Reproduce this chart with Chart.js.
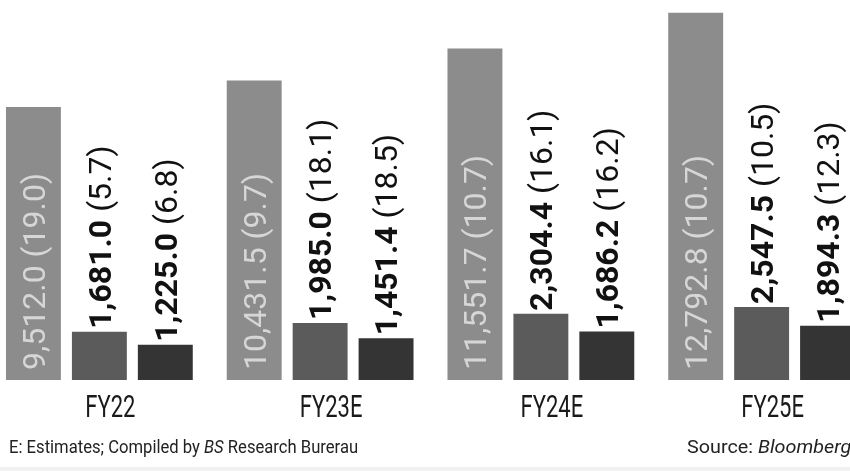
<!DOCTYPE html>
<html>
<head>
<meta charset="utf-8">
<script src="https://cdn.jsdelivr.net/npm/chart.js@4/dist/chart.umd.min.js"></script>
<style>
  html, body { margin: 0; padding: 0; background: #fff; }
  body { width: 850px; height: 471px; overflow: hidden; position: relative; font-family: Roboto, sans-serif; }
  #grafico { position: absolute; left: -11px; top: 0; }
  .nota { position: absolute; top: 437px; font-size: 19px; line-height: 19px; color: #222; white-space: nowrap; transform-origin: left top; }
  #izq { left: 9px; transform: scaleX(0.875); }
  #der { left: 687px; transform: scaleX(1.04); }
  #linea { position: absolute; left: 0; top: 467px; width: 850px; height: 4px; background: #f1f1f1; }
</style>
</head>
<body>
<canvas id="grafico" width="883" height="471"></canvas>
<div class="nota" id="izq">E: Estimates; Compiled by <i>BS</i> Research Burerau</div>
<div class="nota" id="der">Source: <i>Bloomberg</i></div>
<div id="linea"></div>
<script>
// =====================
// DATOS
// =====================
const categorias = ["FY22", "FY23E", "FY24E", "FY25E"];

const serieA = [9512.0, 10431.5, 11551.7, 12792.8];
const serieB = [1681.0, 1985.0, 2304.4, 2547.5];
const serieC = [1225.0, 1451.4, 1686.2, 1894.3];

// variación % entre paréntesis
const crecA = [19.0, 9.7, 10.7, 10.7];
const crecB = [5.7, 18.1, 16.1, 10.5];
const crecC = [6.8, 18.5, 16.2, 12.3];

const crecimientos = [crecA, crecB, crecC];
const colores = ["#8c8c8c", "#5b5b5b", "#343434"];

// =====================
// HELPERS
// =====================
function formatear(v) {
  return v.toLocaleString("en-US", { minimumFractionDigits: 1, maximumFractionDigits: 1 });
}

// etiquetas rotadas sobre/dentro de las barras + categorías
const etiquetas = {
  id: "etiquetas",
  afterDatasetsDraw(chart) {
    const ctx = chart.ctx;
    const fs = 32;
    const alto = fs * 0.71;

    chart.data.datasets.forEach((ds, i) => {
      const meta = chart.getDatasetMeta(i);
      meta.data.forEach((bar, j) => {
        const num = formatear(ds.data[j]);
        const pct = " (" + crecimientos[i][j].toFixed(1) + ")";
        ctx.save();
        if (i === 0) {
          ctx.translate(bar.x, bar.base - 10);
        } else {
          ctx.translate(bar.x, bar.y - 3);
        }
        ctx.rotate(-Math.PI / 2);
        ctx.textAlign = "left";
        ctx.textBaseline = "alphabetic";
        if (i === 0) {
          ctx.fillStyle = "#d6d6d6";
          ctx.font = `400 ${fs}px Roboto`;
          ctx.fillText(num + pct, 0, alto / 2);
        } else {
          ctx.fillStyle = "#111";
          ctx.font = `700 ${fs}px Roboto`;
          ctx.fillText(num, 0, alto / 2);
          const w = ctx.measureText(num).width;
          ctx.font = `400 ${fs}px Roboto`;
          ctx.fillText(pct, w, alto / 2);
        }
        ctx.restore();
      });
    });

    // categorías (fuente condensada), algo corridas a la derecha como en el original
    const x = chart.scales.x;
    ctx.save();
    ctx.fillStyle = "#1a1a1a";
    ctx.font = "400 31px Roboto";
    ctx.textAlign = "center";
    ctx.textBaseline = "alphabetic";
    categorias.forEach((c, i) => {
      ctx.save();
      ctx.translate(x.getPixelForTick(i) + 11, 417);
      ctx.scale(0.71, 1);
      ctx.fillText(c, 0, 0);
      ctx.restore();
    });
    ctx.restore();
  }
};

// =====================
// GRÁFICO
// =====================
const chart = new Chart(document.getElementById("grafico"), {
  type: "bar",
  data: {
    labels: categorias,
    datasets: [serieA, serieB, serieC].map((d, i) => ({
      data: d,
      backgroundColor: colores[i],
      borderWidth: 0,
      categoryPercentage: 0.896,
      barPercentage: 0.833
    }))
  },
  options: {
    responsive: false,
    animation: false,
    layout: { padding: { top: 0, bottom: 91, left: 0, right: 0 } },
    plugins: { legend: { display: false }, tooltip: { enabled: false } },
    scales: {
      x: { display: false },
      y: { display: false, min: 0, max: 13240 }
    }
  },
  plugins: [etiquetas]
});
</script>
</body>
</html>
